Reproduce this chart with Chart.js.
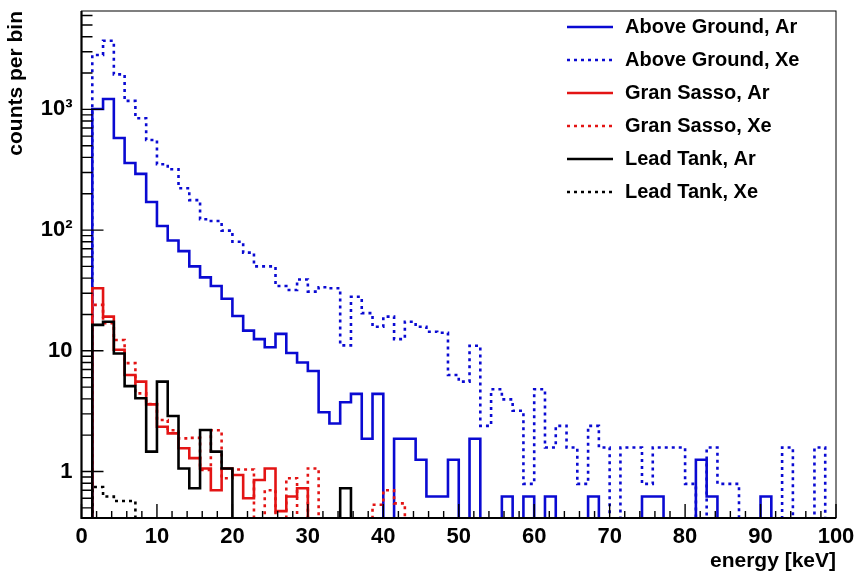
<!DOCTYPE html>
<html>
<head>
<meta charset="utf-8">
<script src="https://cdn.jsdelivr.net/npm/chart.js@4.4.1/dist/chart.umd.min.js"></script>
<style>
  html, body { margin: 0; padding: 0; background: #fff; }
</style>
</head>
<body>
<canvas id="spectrum" width="857" height="578"></canvas>
<script>
// ── DATA ─────────────────────────────────────────────────────────
// 70 bins between 0 and 100 keV, counts per bin (0 = empty bin)
const X_MIN = 0, X_MAX = 100, N_BINS = 70;
const Y_MIN = 0.412, Y_MAX = 6530;

const seriesNames = [
  'Above Ground, Ar', 'Above Ground, Xe',
  'Gran Sasso, Ar', 'Gran Sasso, Xe',
  'Lead Tank, Ar', 'Lead Tank, Xe',
];

const aboveGroundAr = [
  0, 1007, 1220, 580, 360, 292, 171, 108, 82, 67,
  50, 40.6, 34.4, 27, 19.4, 14.7, 12.5, 10.7, 13.8, 9.6,
  8.0, 6.8, 3.1, 2.5, 3.75, 4.4, 1.87, 4.4, 0, 1.87,
  1.87, 1.25, 0.62, 0.62, 1.25, 0, 1.87, 0, 0, 0.62,
  0, 0.62, 0, 0.62, 0, 0, 0, 0.62, 0, 0,
  0, 0, 0.62, 0.62, 0, 0, 0, 1.25, 0.62, 0,
  0, 0, 0, 0.62, 0, 0, 0, 0, 0, 0,
];
const aboveGroundXe = [
  0, 2825, 3700, 1950, 1175, 844, 557, 351, 319, 222,
  177, 123, 119, 99, 80, 65, 50, 50, 34.4, 31.9,
  39, 30.9, 33.6, 33, 11.1, 28, 20.5, 15.8, 19.2, 12.5,
  17.4, 15.8, 14.4, 14.1, 6.3, 5.55, 11, 2.39, 4.8, 3.96,
  3.19, 0.79, 4.8, 1.58, 2.39, 1.58, 0.79, 2.39, 1.58, 0,
  1.58, 1.58, 0.79, 1.58, 1.58, 1.58, 0.79, 0, 1.58, 0.79,
  0.79, 0, 0, 0, 0, 1.58, 0, 0, 1.58, 0,
];
const granSassoAr = [
  0, 33, 19.2, 10.2, 6.3, 5.55, 3.6, 2.35, 2.07, 1.56,
  1.29, 1.06, 0.70, 1.06, 0.935, 0.6, 0.85, 1.06, 0.47, 0.62,
  0.726, 0, 0, 0, 0, 0, 0, 0, 0, 0,
  0, 0, 0, 0, 0, 0, 0, 0, 0, 0,
  0, 0, 0, 0, 0, 0, 0, 0, 0, 0,
  0, 0, 0, 0, 0, 0, 0, 0, 0, 0,
  0, 0, 0, 0, 0, 0, 0, 0, 0, 0,
];
const granSassoXe = [
  0, 24, 16.9, 12.3, 7.9, 4.44, 3.62, 2.67, 2.2, 1.88,
  1.9, 1.03, 2.2, 0.88, 1.04, 1.04, 0, 0.7, 0, 0.88,
  0, 1.06, 0, 0, 0, 0, 0, 0.53, 0.7, 0.545,
  0, 0, 0, 0, 0, 0, 0, 0, 0, 0,
  0, 0, 0, 0, 0, 0, 0, 0, 0, 0,
  0, 0, 0, 0, 0, 0, 0, 0, 0, 0,
  0, 0, 0, 0, 0, 0, 0, 0, 0, 0,
];
const leadTankAr = [
  0, 16.4, 17.4, 9.5, 5.1, 4.04, 1.46, 5.55, 2.88, 1.06,
  0.726, 2.21, 1.46, 1.06, 0, 0, 0, 0, 0, 0,
  0, 0, 0, 0, 0.726, 0, 0, 0, 0, 0,
  0, 0, 0, 0, 0, 0, 0, 0, 0, 0,
  0, 0, 0, 0, 0, 0, 0, 0, 0, 0,
  0, 0, 0, 0, 0, 0, 0, 0, 0, 0,
  0, 0, 0, 0, 0, 0, 0, 0, 0, 0,
];
const leadTankXe = [
  0, 0.744, 0.62, 0.57, 0.57, 0, 0, 0, 0, 0,
  0, 0, 0, 0, 0, 0, 0, 0, 0, 0,
  0, 0, 0, 0, 0, 0, 0, 0, 0, 0,
  0, 0, 0, 0, 0, 0, 0, 0, 0, 0,
  0, 0, 0, 0, 0, 0, 0, 0, 0, 0,
  0, 0, 0, 0, 0, 0, 0, 0, 0, 0,
  0, 0, 0, 0, 0, 0, 0, 0, 0, 0,
];

const yTickValues = [1, 10, 100, 1000];
const yTickLabels = ['1', '10', '10²', '10³'];

// ── STYLE ────────────────────────────────────────────────────────
const FONT = '"Liberation Sans", Arial, Helvetica, sans-serif';
const BLUE = '#0a0ad2', RED = '#e31414', BLACK = '#000000';
const DOTS = [3, 4];
const EMPTY = 0.05; // empty bins fall below the frame, like ROOT on log scale

// histogram -> step points at the left bin edges, closed at X_MAX
function histPoints(vals) {
  const w = (X_MAX - X_MIN) / N_BINS;
  const pts = vals.map((v, i) => ({ x: X_MIN + i * w, y: v > 0 ? v : EMPTY }));
  pts.push({ x: X_MAX, y: EMPTY });
  return pts;
}

function histDataset(i, vals, color, dash) {
  return {
    label: seriesNames[i],
    data: histPoints(vals),
    borderColor: color,
    borderWidth: 2.6,
    borderDash: dash,
    stepped: 'before',
    pointRadius: 0,
    fill: false,
    order: 10 - i, // later series on top
  };
}

// ── FRAME, INWARD TICKS, LEGEND ─────────────────────────────────
const frameTicks = {
  id: 'frameTicks',
  afterDatasetsDraw(chart) {
    const { ctx, chartArea: a, scales: { x, y } } = chart;
    ctx.save();
    ctx.strokeStyle = '#000';
    ctx.lineWidth = 1.4;
    ctx.beginPath();
    for (let v = X_MIN; v <= X_MAX; v += 2) {
      const px = x.getPixelForValue(v);
      const len = v % 10 === 0 ? 14 : 7;
      ctx.moveTo(px, a.bottom);
      ctx.lineTo(px, a.bottom - len);
    }
    for (let d = 0.1; d <= 1000; d *= 10) {
      for (let m = 1; m <= 9; m++) {
        const v = m * d;
        if (v < Y_MIN || v > Y_MAX) continue;
        const py = y.getPixelForValue(v);
        ctx.moveTo(a.left, py);
        ctx.lineTo(a.left + (m === 1 ? 22 : 11), py);
      }
    }
    ctx.stroke();

    ctx.lineWidth = 1;
    ctx.strokeRect(a.left, a.top, a.right - a.left, a.bottom - a.top);
    ctx.lineWidth = 2.2;
    ctx.beginPath();
    ctx.moveTo(a.left, a.top);
    ctx.lineTo(a.left, a.bottom);
    ctx.lineTo(a.right, a.bottom);
    ctx.stroke();
    ctx.restore();
  },
  afterDraw(chart) {
    const ctx = chart.ctx;
    ctx.save();
    ctx.font = 'bold 20px ' + FONT;
    ctx.textBaseline = 'middle';
    chart.data.datasets.forEach((ds, i) => {
      const yy = 27 + i * 33;
      ctx.strokeStyle = ds.borderColor;
      ctx.lineWidth = 2.6;
      ctx.setLineDash(ds.borderDash || []);
      ctx.beginPath();
      ctx.moveTo(567, yy);
      ctx.lineTo(613, yy);
      ctx.stroke();
      ctx.setLineDash([]);
      ctx.fillStyle = '#000';
      ctx.fillText(ds.label, 625, yy);
    });
    ctx.restore();
  }
};

// ── CHART ────────────────────────────────────────────────────────
new Chart(document.getElementById('spectrum'), {
  type: 'line',
  data: {
    datasets: [
      histDataset(0, aboveGroundAr, BLUE, []),
      histDataset(1, aboveGroundXe, BLUE, DOTS),
      histDataset(2, granSassoAr, RED, []),
      histDataset(3, granSassoXe, RED, DOTS),
      histDataset(4, leadTankAr, BLACK, []),
      histDataset(5, leadTankXe, BLACK, DOTS),
    ]
  },
  options: {
    responsive: false,
    animation: false,
    layout: { padding: { top: 11, right: 21, left: 0, bottom: 0 } },
    plugins: { legend: { display: false }, tooltip: { enabled: false } },
    scales: {
      x: {
        type: 'linear',
        min: X_MIN,
        max: X_MAX,
        grid: { display: false, drawTicks: false },
        border: { display: false },
        afterFit: (s) => { s.height = 60; s.paddingLeft = 0; s.paddingRight = 0; },
        ticks: {
          stepSize: 10,
          autoSkip: false,
          maxRotation: 0,
          padding: 6,
          color: '#000',
          font: { family: FONT, size: 22, weight: 'bold' },
        },
        title: {
          display: true,
          text: 'energy [keV]',
          align: 'end',
          color: '#000',
          font: { family: FONT, size: 21, weight: 'bold' },
          padding: { top: 0, bottom: 4 },
        },
      },
      y: {
        type: 'logarithmic',
        min: Y_MIN,
        max: Y_MAX,
        grid: { display: false, drawTicks: false },
        border: { display: false },
        afterFit: (s) => { s.width = 81.5; s.paddingTop = 0; s.paddingBottom = 0; },
        afterBuildTicks: (s) => { s.ticks = yTickValues.map(v => ({ value: v })); },
        ticks: {
          padding: 9,
          color: '#000',
          font: { family: FONT, size: 22, weight: 'bold' },
          callback: (v) => yTickLabels[yTickValues.indexOf(v)] ?? '',
        },
        title: {
          display: true,
          text: 'counts per bin',
          align: 'end',
          color: '#000',
          font: { family: FONT, size: 21, weight: 'bold' },
          padding: { top: 4, bottom: 0 },
        },
      },
    },
  },
  plugins: [frameTicks],
});
</script>
</body>
</html>
